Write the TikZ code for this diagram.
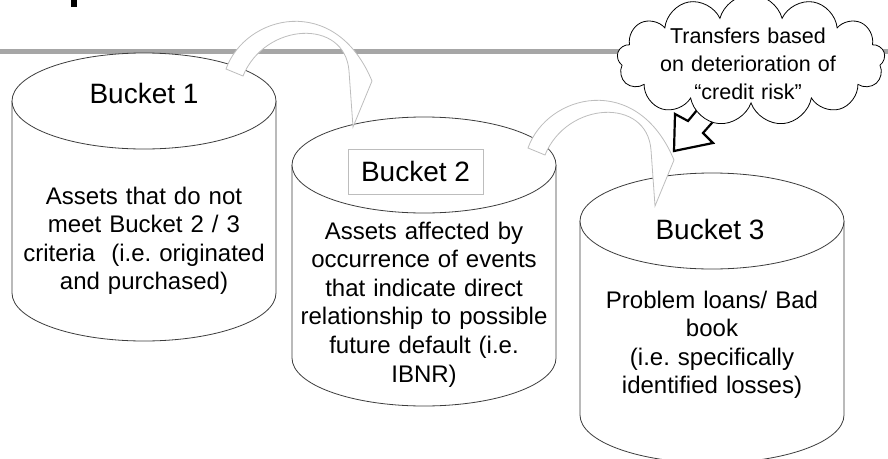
\documentclass[tikz,border=0pt]{standalone}
\usepackage{fontspec}
\setmainfont{Liberation Sans}
\usetikzlibrary{shapes.symbols}
\definecolor{rimgray}{HTML}{3C3C3C}
\definecolor{hopgray}{HTML}{BDBDBD}
\definecolor{bargray}{HTML}{A6A6A6}
\newcommand{\bucketcyl}[3]{%
  \draw[cyl] (#1-132,#2) -- (#1-132,#3) arc[start angle=180,end angle=0,x radius=132,y radius=48]
    -- (#1+132,#2) arc[start angle=0,end angle=-180,x radius=132,y radius=48] -- cycle;
  \draw[cyl] (#1-132,#2) arc[start angle=180,end angle=0,x radius=132,y radius=48];}
\newcommand{\hoppath}{(226,69) .. controls (245,15) and (335,-8) .. (372,81) -- (353,127)
  -- (349,71) .. controls (345,18) and (265,22) .. (243,76) -- cycle}

\begin{document}
\begin{tikzpicture}[x=1pt,y=-1pt,
  cyl/.style={draw=rimgray,line width=0.8pt,fill=white},
  hop/.style={draw=hopgray,line width=0.8pt,fill=white},
  pointer/.style={draw=black,line width=2.2pt,fill=white,line join=miter},
  head/.style={font=\fontsize{28}{32}\selectfont,inner sep=0pt,anchor=base},
  body/.style={font=\fontsize{24}{28.6}\selectfont,align=center,text width=280pt,inner sep=0pt,anchor=base}]
\useasboundingbox (0,0) rectangle (888,458);
\clip (0,0) rectangle (888,458);
\fill (71,0) rectangle (77,7);
\fill[bargray] (0,49) rectangle (888,54);
\bucketcyl{144}{101}{293}
\bucketcyl{424}{165}{358}
\bucketcyl{712}{221}{415}
\draw[hop] \hoppath;
\draw[hop,shift={(302,79)}] \hoppath;
\node[head] (h1) at (144,103) {Bucket 1};
\node[head,draw=hopgray,line width=0.8pt,minimum width=135pt,minimum height=45pt,anchor=center] (h2) at (415.5,171.5) {Bucket 2};
\node[head] (h3) at (710,239) {Bucket 3};
\node[body] (t1) at (144,204) {Assets that do not\\meet Bucket 2 / 3\\criteria~ (i.e.\ originated\\and purchased)};
\node[body] (t2) at (424,239) {Assets affected by\\occurrence of events\\that indicate direct\\relationship to possible\\future default (i.e.\\IBNR)};
\node[body] (t3) at (712,308) {Problem loans/ Bad\\book\\(i.e.\ specifically\\identified losses)};
\draw[pointer] (707,98) -- (688,121) -- (675,114) -- (674,151) -- (713,143) -- (703,133) -- (734,98) -- cycle;
\node[cloud,cloud puffs=13,cloud ignores aspect,draw,fill=white,line width=0.8pt,minimum width=268pt,minimum height=131pt,inner sep=0pt] (note) at (751,60) {};
\node[body,font=\fontsize{21.5}{28}\selectfont,text width=220pt] (notetxt) at (748,43) {Transfers based\\on deterioration of\\“credit risk”};
\end{tikzpicture}
\end{document}
